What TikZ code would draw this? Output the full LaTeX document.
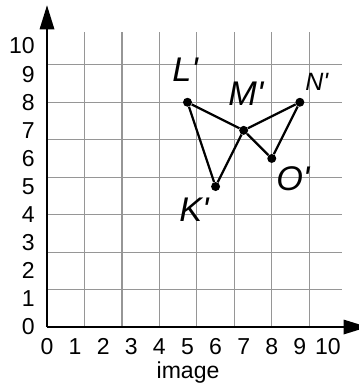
\documentclass[tikz,border=0pt]{standalone}
\usepackage{fontspec}
\setmainfont{Liberation Sans}
\usetikzlibrary{arrows.meta,positioning}
\definecolor{gridcolor}{RGB}{150,150,150}

\begin{document}
\begin{tikzpicture}[x=0.75cm, y=0.75cm,
  gridline/.style={draw=gridcolor, line width=0.9pt},
  axisline/.style={line width=2pt, -{Triangle[length=0.65cm, width=0.38cm]}},
  ticklabel/.style={font=\fontsize{17.5}{20}\selectfont, inner sep=0pt},
  pt/.style={circle, fill=black, inner sep=0pt, minimum size=0.24cm},
  ptlabel/.style={font=\fontsize{26}{29}\selectfont\itshape, inner sep=0pt},
  link/.style={line width=1.7pt}
]
\useasboundingbox (-1.673,-2.206) rectangle (11.10,11.64);

% grid and axes
\draw[gridline] (0,0) grid (10.5,10.5);
\coordinate (orig) at (0,0);
\coordinate (xend) at (11.42,0);
\coordinate (yend) at (0,11.46);
\draw[axisline] (orig) -- (xend);
\draw[axisline] (orig) -- (yend);

\foreach \i in {0,...,10} {
  \node[ticklabel] (x\i) at (\i,-0.69) {\i};
  \node[ticklabel, anchor=east] (y\i) at (-0.43,\i) {\i};
}
\node[ticklabel] (cap) at (5.02,-1.62) {image};

% image figure
\node[pt] (K) at (6,5) {};
\node[pt] (L) at (5,8) {};
\node[pt] (M) at (7,7) {};
\node[pt] (N) at (9,8) {};
\node[pt] (O) at (8,6) {};

\draw[link] (L) -- (M) -- (N) -- (O) -- (M) -- (K) -- (L);

\node[ptlabel] (Klab) at (5.23,4.16) {K\textquotesingle};
\node[ptlabel] (Llab) at (4.92,9.15) {L\textquotesingle};
\node[ptlabel] (Mlab) at (7.08,8.29) {M\textquotesingle};
\node[ptlabel, font=\fontsize{19}{22}\selectfont\itshape] (Nlab) at (9.6,8.72) {N\textquotesingle};
\node[ptlabel] (Olab) at (8.75,5.27) {O\textquotesingle};

\end{tikzpicture}
\end{document}
